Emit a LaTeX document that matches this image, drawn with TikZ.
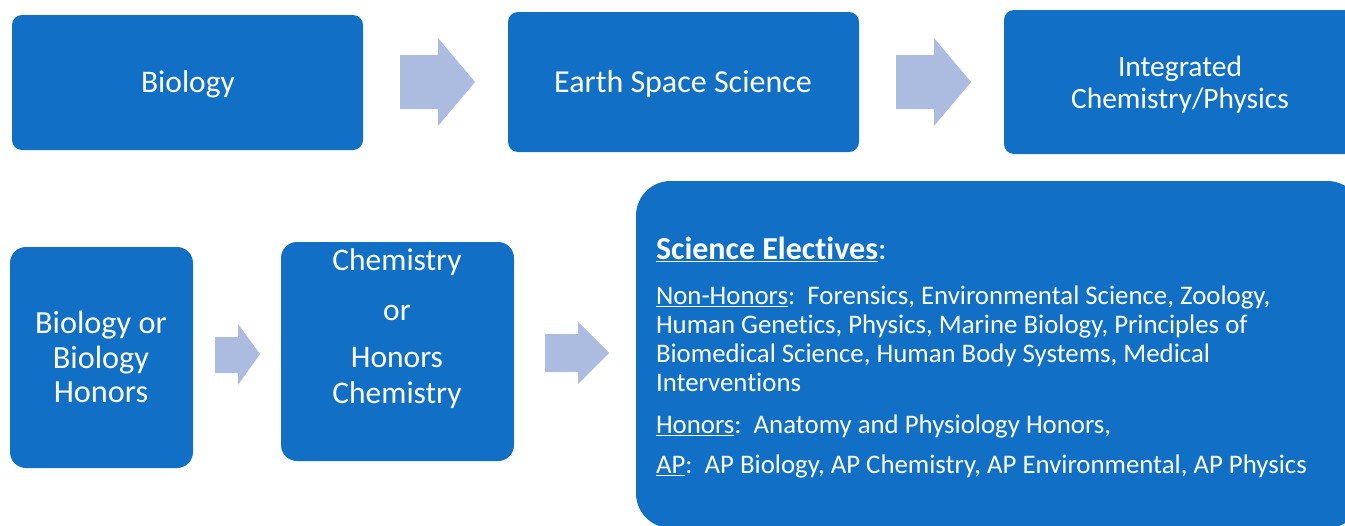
\documentclass[tikz,border=0pt]{standalone}
\usepackage{fontspec}
\setmainfont{Carlito}[Ligatures={NoCommon}]
\usetikzlibrary{fit}
\definecolor{boxblue}{HTML}{1170C6}
\definecolor{arrowblue}{HTML}{ABBCE0}
\begin{document}
\begin{tikzpicture}[x=0.75pt,y=-0.75pt,
  box/.style={fill=boxblue, draw=none, rounded corners=#1, inner sep=0pt, outer sep=0pt},
  box/.default=7.5pt,
  blockarrow/.style={fill=arrowblue, draw=none},
  txt/.style={text=white, inner sep=0pt, outer sep=0pt, font=\fontsize{23.6pt}{28pt}\selectfont},
  etxt/.style={text=white, inner sep=0pt, outer sep=0pt, anchor=base west, font=\fontsize{20.1pt}{24pt}\selectfont}]
\useasboundingbox (0,0) rectangle (1345,525);
\clip (0,0) rectangle (1345,525);
% top row boxes
\node[box, fit={(12,15) (363,150)}] (bio) {};
\node[box, fit={(508,12) (859,152)}] (ess) {};
\node[box, fit={(1004,10) (1365,154)}] (icp) {};
% bottom row boxes
\node[box=12pt, fit={(10,247) (193,468)}] (bioh) {};
\node[box=12pt, fit={(281,242) (514,461)}] (chem) {};
\node[box=26pt, fit={(636,181) (1362,528)}] (elec) {};
% block arrows
\fill[blockarrow] (400,55) -- (438,55) -- (438,38) -- (475,82) -- (438,126) -- (438,109) -- (400,109) -- cycle;
\fill[blockarrow] (896,55) -- (934,55) -- (934,38) -- (971,82) -- (934,126) -- (934,109) -- (896,109) -- cycle;
\fill[blockarrow] (215,337) -- (238,337) -- (238,324) -- (260,354) -- (238,385) -- (238,373) -- (215,373) -- cycle;
\fill[blockarrow] (545,334) -- (578,334) -- (578,322) -- (609,353) -- (578,384) -- (578,372) -- (545,372) -- cycle;
% top texts
\node[txt, anchor=base] (tbio) at (188,92) {Biology};
\node[txt, anchor=base, font=\fontsize{24pt}{28pt}\selectfont] (tess) at (683,92) {Earth Space Science};
\node[txt, anchor=base, font=\fontsize{22.1pt}{26pt}\selectfont] (ticp1) at (1180,76) {Integrated};
\node[txt, anchor=base, font=\fontsize{22.1pt}{26pt}\selectfont] (ticp2) at (1180,108) {Chemistry/Physics};
% bottom-left texts
\node[txt, anchor=base, font=\fontsize{24.2pt}{28pt}\selectfont] (tb1) at (101,333) {Biology or};
\node[txt, anchor=base, font=\fontsize{24.2pt}{28pt}\selectfont] (tb2) at (101,368) {Biology};
\node[txt, anchor=base, font=\fontsize{24.2pt}{28pt}\selectfont] (tb3) at (101,402) {Honors};
\node[txt, anchor=base] (tc1) at (397,270) {Chemistry};
\node[txt, anchor=base] (tc2) at (397,320) {or};
\node[txt, anchor=base] (tc3) at (397,367) {Honors};
\node[txt, anchor=base] (tc4) at (397,403) {Chemistry};
% electives
\node[etxt, font=\fontsize{24pt}{28pt}\selectfont\bfseries] (e0) at (656,259) {\underline{Science Electives}\mdseries:};
\node[etxt] (e1) at (656,304) {\underline{Non-Honors}:\ \ Forensics, Environmental Science, Zoology,};
\node[etxt] (e2) at (656,333) {Human Genetics, Physics, Marine Biology, Principles of};
\node[etxt] (e3) at (656,362) {Biomedical Science, Human Body Systems, Medical};
\node[etxt] (e4) at (656,391) {Interventions};
\node[etxt] (e5) at (656,433) {\underline{Honors}:\ \ Anatomy and Physiology Honors,};
\node[etxt] (e6) at (656,473) {\underline{AP}:\ \ AP Biology, AP Chemistry, AP Environmental, AP Physics};
\end{tikzpicture}
\end{document}
